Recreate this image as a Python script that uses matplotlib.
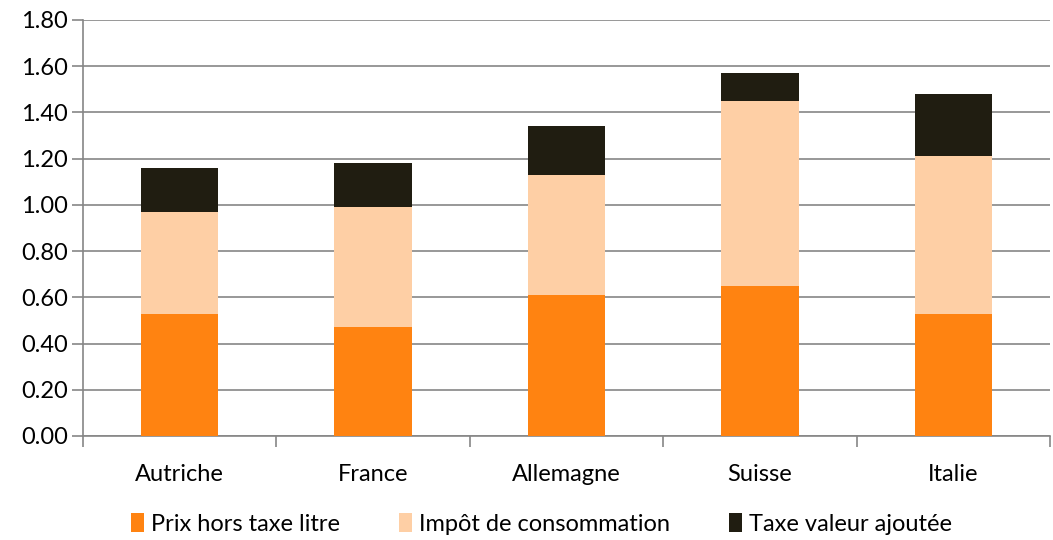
import matplotlib
matplotlib.use("Agg")
import matplotlib.pyplot as plt
import numpy as np

plt.rcParams['font.family'] = ['Lato', 'DejaVu Sans']

categories = ["Autriche", "France", "Allemagne", "Suisse", "Italie"]
prix_ht = [0.53, 0.47, 0.61, 0.65, 0.53]
impot = [0.44, 0.52, 0.52, 0.80, 0.68]
tva = [0.19, 0.19, 0.21, 0.12, 0.27]
series_names = ["Prix hors taxe litre", "Impôt de consommation", "Taxe valeur ajoutée"]
colors = ["#FF8311", "#FECFA5", "#201D11"]
yticks = [0.0, 0.2, 0.4, 0.6, 0.8, 1.0, 1.2, 1.4, 1.6, 1.8]

fig = plt.figure(figsize=(10.53, 5.40), dpi=100)
ax = fig.add_axes([83 / 1053, 1 - 436 / 540, (1050 - 83) / 1053, (436 - 20) / 540])

x = np.arange(len(categories))
bottom = np.zeros(len(categories))
for vals, name, c in zip([prix_ht, impot, tva], series_names, colors):
    ax.bar(x, vals, width=0.4, bottom=bottom, color=c, label=name, zorder=3)
    bottom += np.array(vals)

ax.set_xlim(-0.5, len(categories) - 0.5)
ax.set_ylim(0, 1.8)
ax.set_yticks(yticks)
ax.set_yticklabels([f"{v:.2f}" for v in yticks], fontsize=17)
ax.yaxis.grid(True, color="#868686", linewidth=1.2, zorder=0)
ax.set_axisbelow(True)

ax.set_xticks(x)
ax.set_xticklabels(categories, fontsize=17)
ax.tick_params(axis='x', length=0, pad=20)
ax.set_xticks(np.arange(-0.5, len(categories)), minor=True)
ax.tick_params(axis='x', which='minor', length=8, color="#868686", width=1.2)
ax.tick_params(axis='y', length=8, color="#868686", width=1.2, pad=3)

for s in ["top", "right"]:
    ax.spines[s].set_visible(False)
for s in ["left", "bottom"]:
    ax.spines[s].set_color("#868686")
    ax.spines[s].set_linewidth(1.2)

leg = fig.legend(loc="center", bbox_to_anchor=(0.514, 1 - 524 / 540), ncol=3, frameon=False,
                 fontsize=17, handlelength=0.55, handleheight=0.85, handletextpad=0.3,
                 columnspacing=2.5)

fig.savefig("out.png", dpi=100)
